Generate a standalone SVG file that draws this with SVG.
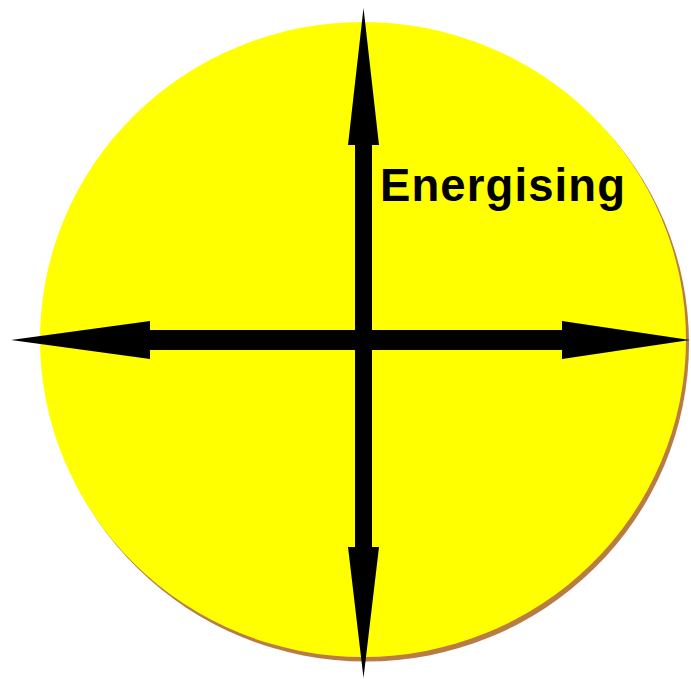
<svg xmlns="http://www.w3.org/2000/svg" width="691" height="679" viewBox="0 0 691 679">
<style>
.arrow{fill:#000000}
.label{font-family:"Liberation Sans",Arial,sans-serif;font-weight:bold;font-size:45.5px;fill:#000000}
</style>
<rect width="691" height="679" fill="#ffffff"/>
<g id="circle">
<ellipse cx="366" cy="343.5" rx="323" ry="318" fill="#b87c44"/>
<ellipse cx="363" cy="339.5" rx="323" ry="317.5" fill="#ffff00"/>
</g>
<g id="connectors">
<polygon class="arrow" points="363.5,8 379,145 372,145 372,547 379,547 363.5,678 348,547 355,547 355,145 348,145"/>
<polygon class="arrow" points="11,340 150,321 150,330 562,330 562,321 690,340 562,359 562,350 150,350 150,359"/>
</g>
<g id="label">
<text class="label" x="380" y="201" textLength="245" lengthAdjust="spacing">Energising</text>
</g>
</svg>
